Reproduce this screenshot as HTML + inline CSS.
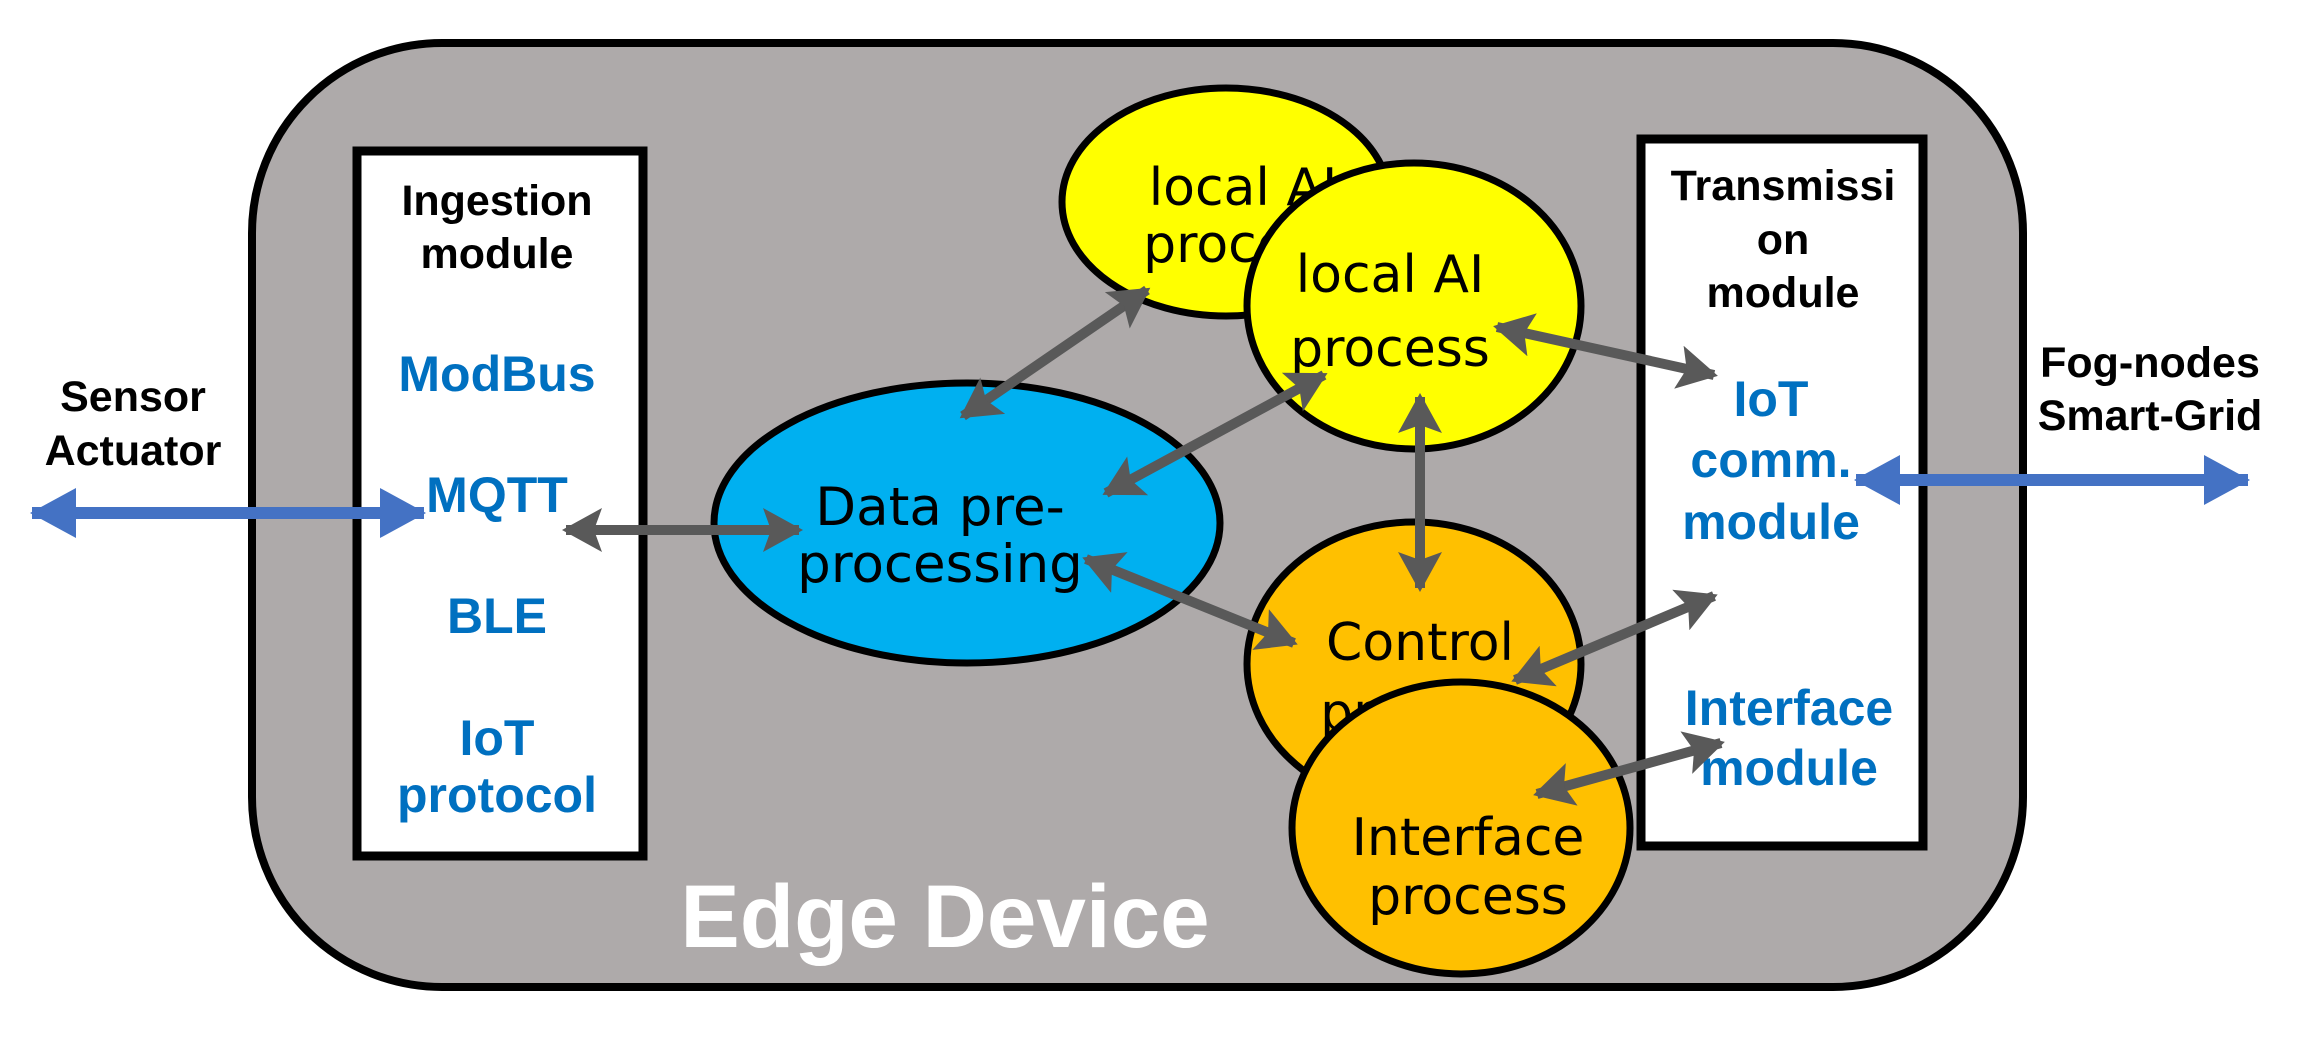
<!DOCTYPE html>
<html><head><meta charset="utf-8"><style>
html,body{margin:0;padding:0;background:#fff;}
svg{display:block;}
.b{font-family:"Liberation Sans",Arial,sans-serif;font-weight:bold;text-anchor:middle;}
.c{font-family:"Comic Sans MS","DejaVu Sans",sans-serif;text-anchor:middle;fill:#000;}
</style></head><body>
<svg width="2307" height="1037" viewBox="0 0 2307 1037" xmlns="http://www.w3.org/2000/svg">
<defs>
<marker id="g" markerUnits="userSpaceOnUse" markerWidth="40" markerHeight="44" refX="36" refY="22" orient="auto-start-reverse">
<path d="M0,0 L40,22 L0,44 L8,22 Z" fill="#595959"/></marker>
<marker id="bl" markerUnits="userSpaceOnUse" markerWidth="46" markerHeight="50" refX="44" refY="25" orient="auto-start-reverse">
<path d="M0,0 L46,25 L0,50 Z" fill="#4472c4"/></marker>
</defs>
<rect x="252" y="43" width="1771" height="944" rx="190" fill="#aeaaaa" stroke="#000" stroke-width="8"/>
<rect x="357" y="151" width="286" height="705" fill="#fff" stroke="#000" stroke-width="9"/>
<rect x="1641" y="139" width="282" height="707" fill="#fff" stroke="#000" stroke-width="9"/>

<text class="b" x="133" y="411" font-size="43">Sensor</text>
<text class="b" x="133" y="465" font-size="43">Actuator</text>
<text class="b" x="2150" y="377" font-size="43">Fog-nodes</text>
<text class="b" x="2150" y="430" font-size="43">Smart-Grid</text>

<text class="b" x="497" y="215" font-size="43">Ingestion</text>
<text class="b" x="497" y="268" font-size="43">module</text>
<g class="b" fill="#0070c0" font-size="50">
<text x="497" y="391">ModBus</text>
<text x="497" y="512">MQTT</text>
<text x="497" y="633">BLE</text>
<text x="497" y="755">IoT</text>
<text x="497" y="812">protocol</text>
</g>
<text class="b" x="1783" y="200" font-size="43">Transmissi</text>
<text class="b" x="1783" y="254" font-size="43">on</text>
<text class="b" x="1783" y="307" font-size="43">module</text>
<g class="b" fill="#0070c0" font-size="50">
<text x="1771" y="416">IoT</text>
<text x="1771" y="477">comm.</text>
<text x="1771" y="539">module</text>
<text x="1789" y="725">Interface</text>
<text x="1789" y="785">module</text>
</g>

<ellipse cx="967" cy="523" rx="253" ry="140" fill="#00b0f0" stroke="#000" stroke-width="7"/>
<text class="c" x="940" y="525" font-size="53">Data pre-</text>
<text class="c" x="940" y="582" font-size="53">processing</text>

<ellipse cx="1226" cy="202" rx="164" ry="114" fill="#ffff00" stroke="#000" stroke-width="7"/>
<text class="c" x="1243" y="205" font-size="52">local AI</text>
<text class="c" x="1243" y="262" font-size="52">process</text>
<ellipse cx="1414" cy="306" rx="167" ry="143" fill="#ffff00" stroke="#000" stroke-width="7"/>
<text class="c" x="1390" y="292" font-size="52">local AI</text>
<text class="c" x="1390" y="366" font-size="52">process</text>

<ellipse cx="1414" cy="664" rx="167" ry="142" fill="#ffc000" stroke="#000" stroke-width="7"/>
<text class="c" x="1420" y="660" font-size="52">Control</text>
<text class="c" x="1420" y="730" font-size="52">process</text>
<ellipse cx="1461" cy="828" rx="169" ry="146" fill="#ffc000" stroke="#000" stroke-width="7"/>
<text class="c" x="1468" y="855" font-size="52">Interface</text>
<text class="c" x="1468" y="914" font-size="52">process</text>

<text class="b" x="945" y="947" font-size="89" fill="#fff">Edge Device</text>

<g stroke="#595959" stroke-width="10" fill="none">
<line x1="566" y1="530" x2="799" y2="530" marker-start="url(#g)" marker-end="url(#g)"/>
<line x1="963" y1="416" x2="1147" y2="290" marker-start="url(#g)" marker-end="url(#g)"/>
<line x1="1106" y1="493" x2="1324" y2="375" marker-start="url(#g)" marker-end="url(#g)"/>
<line x1="1086" y1="559" x2="1294" y2="643" marker-start="url(#g)" marker-end="url(#g)"/>
<line x1="1420" y1="397" x2="1420" y2="588" marker-start="url(#g)" marker-end="url(#g)"/>
<line x1="1497" y1="327" x2="1714" y2="375" marker-start="url(#g)" marker-end="url(#g)"/>
<line x1="1515" y1="680" x2="1714" y2="596" marker-start="url(#g)" marker-end="url(#g)"/>
<line x1="1537" y1="794" x2="1721" y2="743" marker-start="url(#g)" marker-end="url(#g)"/>
</g>
<g stroke="#4472c4" stroke-width="12" fill="none">
<line x1="32" y1="513" x2="424" y2="513" marker-start="url(#bl)" marker-end="url(#bl)"/>
<line x1="1856" y1="480" x2="2248" y2="480" marker-start="url(#bl)" marker-end="url(#bl)"/>
</g>
</svg>
</body></html>
